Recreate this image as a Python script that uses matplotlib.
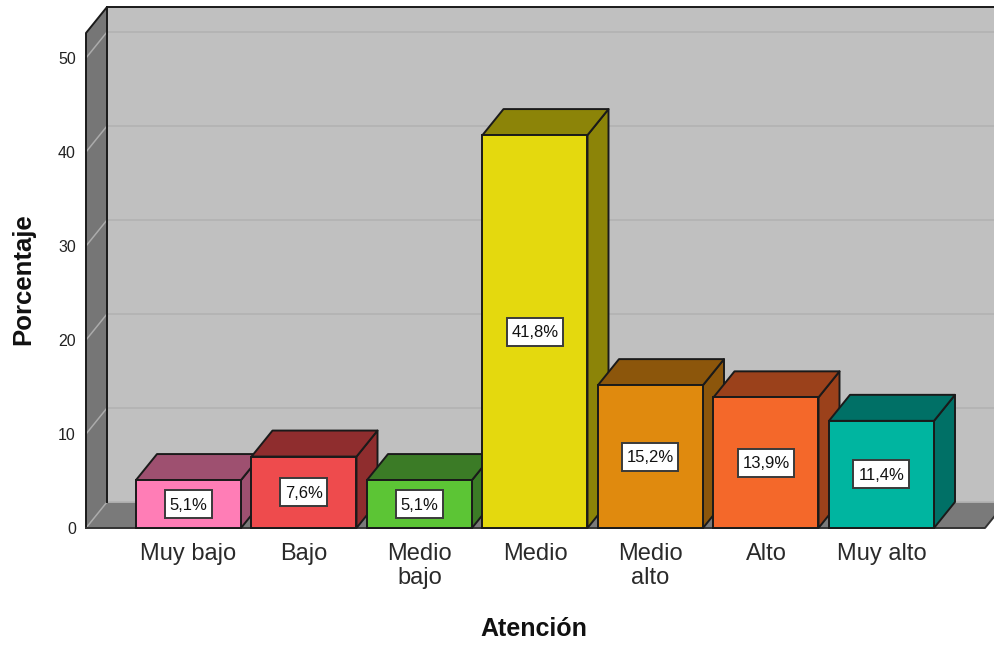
import matplotlib
matplotlib.use('Agg')
import matplotlib.pyplot as plt
from matplotlib.patches import Polygon, Rectangle

plt.rcParams['font.family'] = ['Liberation Sans', 'DejaVu Sans']

categorias = ['Muy bajo', 'Bajo', 'Medio\nbajo', 'Medio', 'Medio\nalto', 'Alto', 'Muy alto']
porcentajes = [5.1, 7.6, 5.1, 41.8, 15.2, 13.9, 11.4]
etiquetas = ['5,1%', '7,6%', '5,1%', '41,8%', '15,2%', '13,9%', '11,4%']
colores = ['#FF7DB6', '#EE4B4D', '#5CC535', '#E4D90E', '#E08A0E', '#F4682A', '#00B5A0']
colores_lado = ['#9E5070', '#8F2D2E', '#3B7B26', '#8C8408', '#8C560B', '#9B411B', '#007066']
ticks_y = [0, 10, 20, 30, 40, 50]

# scale of the axes, pixels per unit
px_x = 115.5
px_y = 9.4
ancho = 105 / px_x
dx = 21 / px_x
dy = 26 / px_y
x_izq = (86 - 188.5) / px_x
x_der = (985 - 188.5) / px_x
y_tope = 495 / px_y

fig = plt.figure(figsize=(9.95, 6.45), dpi=100)
ax = fig.add_axes([0, 0, 1, 1])
ax.set_xlim(-188.5 / px_x, (995 - 188.5) / px_x)
ax.set_ylim((528 - 645) / px_y, 528 / px_y)
ax.axis('off')

negro = '#1a1a1a'

# back wall, left wall and floor
ax.add_patch(Polygon([(x_izq + dx, dy), (x_der + dx, dy), (x_der + dx, y_tope + dy), (x_izq + dx, y_tope + dy)],
                     fc='#C0C0C0', ec='none', zorder=1))
ax.add_patch(Polygon([(x_izq, 0), (x_izq + dx, dy), (x_izq + dx, y_tope + dy), (x_izq, y_tope)],
                     fc='#767676', ec='none', zorder=1))
ax.add_patch(Polygon([(x_izq, 0), (x_izq + dx, dy), (x_der + dx, dy), (x_der, 0)],
                     fc='#7A7A7A', ec='none', zorder=1))

# gridlines on both walls
for t in ticks_y:
    ax.plot([x_izq, x_izq + dx], [t, t + dy], color='#ABABAB', lw=1.1, zorder=2)
    ax.plot([x_izq + dx, x_der + dx], [t + dy, t + dy], color='#B3B3B3', lw=1.3, zorder=2)

# frame of the box
ax.plot([x_izq, x_izq, x_izq + dx, x_der + dx], [0, y_tope, y_tope + dy, y_tope + dy], color=negro, lw=1.4, zorder=3)
ax.plot([x_izq + dx, x_izq + dx], [dy, y_tope + dy], color=negro, lw=1.4, zorder=3)
ax.plot([x_izq, x_der, x_der + dx], [0, 0, dy], color='#333333', lw=1.4, zorder=3)

# 3d bars
for i, v in enumerate(porcentajes):
    x0 = i - ancho / 2
    x1 = i + ancho / 2
    z = 4 + i
    ax.add_patch(Polygon([(x1, 0), (x1 + dx, dy), (x1 + dx, v + dy), (x1, v)],
                         fc=colores_lado[i], ec=negro, lw=1.4, joinstyle='round', zorder=z))
    ax.add_patch(Polygon([(x0, v), (x0 + dx, v + dy), (x1 + dx, v + dy), (x1, v)],
                         fc=colores_lado[i], ec=negro, lw=1.4, joinstyle='round', zorder=z))
    ax.add_patch(Rectangle((x0, 0), ancho, v, fc=colores[i], ec=negro, lw=1.4, zorder=z))
    # value box, wider for the two digit labels
    w_caja = (47 if len(etiquetas[i]) == 4 else 56) / px_x
    h_caja = 28 / px_y
    ax.add_patch(Rectangle((i - w_caja / 2, v / 2 - h_caja / 2), w_caja, h_caja,
                           fc='white', ec='#3a3a3a', lw=1.4, zorder=20))
    ax.text(i, v / 2 - 1 / px_y, etiquetas[i], ha='center', va='center', fontsize=12, color='#111111', zorder=21)

# axis labels and ticks
for t in ticks_y:
    ax.text((76 - 188.5) / px_x, t - 1.5 / px_y, str(t), ha='right', va='center', fontsize=11.5, color='#222222')
for i, c in enumerate(categorias):
    ax.text(i, (528 - 543) / px_y, c, ha='center', va='top', fontsize=17, color='#2a2a2a', linespacing=1.13)

ax.text((534 - 188.5) / px_x, (528 - 629) / px_y, 'Atención', ha='center', va='center',
        fontsize=18, fontweight='bold', color='#111111')
ax.text((23 - 188.5) / px_x, (528 - 279) / px_y, 'Porcentaje', ha='center', va='center', rotation=90,
        fontsize=18.5, fontweight='bold', color='#111111')

fig.savefig('out.png', dpi=100)
